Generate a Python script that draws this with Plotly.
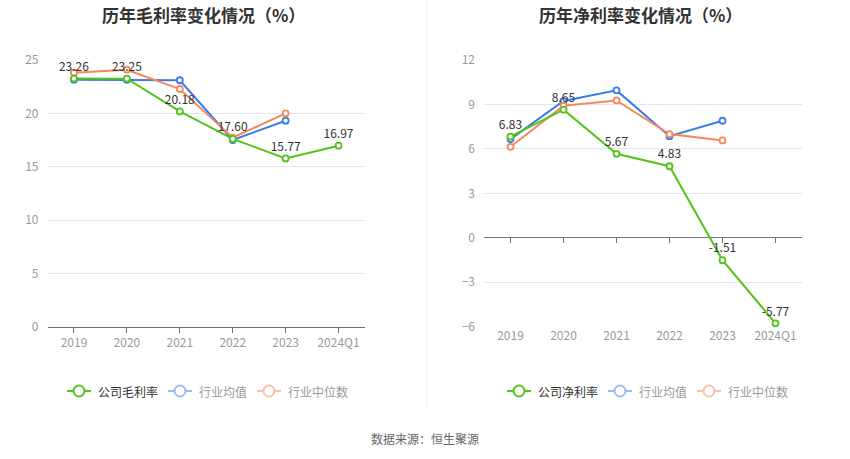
import plotly.graph_objects as go

W, H = 850, 459

years = ["2019", "2020", "2021", "2022", "2023", "2024Q1"]
years_ind = ["2019", "2020", "2021", "2022", "2023"]

# gross margin (%)
gross_company = [23.26, 23.25, 20.18, 17.60, 15.77, 16.97]
gross_ind_mean = [23.16, 23.15, 23.10, 17.50, 19.31]
gross_ind_median = [23.81, 24.09, 22.28, 17.72, 20.00]

# net margin (%)
net_company = [6.83, 8.65, 5.67, 4.83, -1.51, -5.77]
net_ind_mean = [6.66, 9.23, 9.95, 6.86, 7.90]
net_ind_median = [6.14, 8.91, 9.27, 7.00, 6.57]

GREEN = "#52c41a"
BLUE = "#3b7be8"
ORANGE = "#f5875a"
BLUE_FADE = "#9dbdf3"
ORANGE_FADE = "#f9c1a9"
FONT = "Noto Sans CJK SC"


def px_x(v):
    return v / W


def px_y(v):
    return 1 - v / H


def line_trace(x, y, color, xa, ya, labels=False):
    return go.Scatter(
        x=x, y=y, mode="lines+markers+text" if labels else "lines+markers",
        line=dict(color=color, width=2),
        marker=dict(symbol="circle", size=6, color="white",
                    line=dict(color=color, width=1.8)),
        text=[f"{v:.2f}" for v in y] if labels else None,
        textposition="top center",
        textfont=dict(color="#333333", size=12, family=FONT),
        xaxis=xa, yaxis=ya, showlegend=False, hoverinfo="x+y",
        cliponaxis=False,
    )


fig = go.Figure()
# left chart
fig.add_trace(line_trace(years_ind, gross_ind_mean, BLUE, "x", "y"))
fig.add_trace(line_trace(years_ind, gross_ind_median, ORANGE, "x", "y"))
fig.add_trace(line_trace(years, gross_company, GREEN, "x", "y", labels=True))
# right chart
fig.add_trace(line_trace(years_ind, net_ind_mean, BLUE, "x2", "y2"))
fig.add_trace(line_trace(years_ind, net_ind_median, ORANGE, "x2", "y2"))
fig.add_trace(line_trace(years, net_company, GREEN, "x2", "y2", labels=True))

y_dom = [px_y(326.7), px_y(60)]
tickfont = dict(color="#999999", size=12, family=FONT)

fig.update_layout(
    template="none",
    width=W, height=H,
    margin=dict(l=0, r=0, t=0, b=0, pad=0),
    paper_bgcolor="white", plot_bgcolor="white",
    font=dict(family=FONT),
    xaxis=dict(domain=[px_x(47.5), px_x(365)], type="category",
               categoryorder="array", categoryarray=years,
               range=[-0.5, 5.5], anchor="y", automargin=False,
               showline=True, linecolor="#6e7079", linewidth=1,
               ticks="outside", ticklen=5, tickcolor="#6e7079",
               showgrid=False, zeroline=False, tickfont=tickfont),
    yaxis=dict(domain=y_dom, range=[0, 25], dtick=5, anchor="x",
               automargin=False,
               showgrid=True, gridcolor="#e0e6f1", zeroline=False,
               showline=False, tickfont=tickfont, ticks="", ticklabelstandoff=8),
    xaxis2=dict(domain=[px_x(484), px_x(802)], type="category",
                categoryorder="array", categoryarray=years,
                range=[-0.5, 5.5], anchor="y2", automargin=False,
                showline=False, ticks="", showgrid=False, zeroline=False,
                tickfont=tickfont),
    yaxis2=dict(domain=y_dom, range=[-6, 12], dtick=3, anchor="x2",
                automargin=False,
                showgrid=True, gridcolor="#e0e6f1",
                zeroline=True, zerolinecolor="#6e7079", zerolinewidth=1,
                showline=False, tickfont=tickfont, ticks="", ticklabelstandoff=8),
    # tick marks on the zero line of the right chart
    xaxis3=dict(domain=[px_x(484), px_x(802)], range=[-0.5, 5.5],
                anchor="free", position=px_y(237), overlaying="x2",
                automargin=False,
                tickvals=[0, 1, 2, 3, 4, 5], showticklabels=False,
                ticks="outside", ticklen=5, tickcolor="#6e7079",
                showline=False, showgrid=False, zeroline=False),
)
fig.add_trace(go.Scatter(x=[None], y=[None], xaxis="x3", yaxis="y2",
                         showlegend=False, hoverinfo="skip"))

annotations = [
    dict(text="<b>历年毛利率变化情况（%）</b>", x=px_x(203), y=px_y(15)),
    dict(text="<b>历年净利率变化情况（%）</b>", x=px_x(640), y=px_y(15)),
]
for a in annotations:
    a.update(xref="paper", yref="paper", showarrow=False,
             font=dict(size=17, color="#333333", family=FONT),
             xanchor="center", yanchor="middle")
    fig.add_annotation(**a)

fig.add_annotation(text="数据来源：恒生聚源", x=px_x(425), y=px_y(438),
                   xref="paper", yref="paper", showarrow=False,
                   xanchor="center", yanchor="middle",
                   font=dict(size=12, color="#666666", family=FONT))

# separator
fig.add_shape(type="line", xref="paper", yref="paper",
              x0=px_x(427), x1=px_x(427), y0=px_y(0), y1=px_y(408),
              line=dict(color="#eeeeee", width=1))

# hand-drawn legends
legend_items = [
    ("公司毛利率", GREEN, "#333333", 67),
    ("行业均值", BLUE_FADE, "#999999", 168),
    ("行业中位数", ORANGE_FADE, "#999999", 257),
    ("公司净利率", GREEN, "#333333", 507),
    ("行业均值", BLUE_FADE, "#999999", 608),
    ("行业中位数", ORANGE_FADE, "#999999", 697),
]
ly = 391
for label, icolor, tcolor, x0 in legend_items:
    fig.add_shape(type="line", xref="paper", yref="paper",
                  x0=px_x(x0), x1=px_x(x0 + 24), y0=px_y(ly), y1=px_y(ly),
                  line=dict(color=icolor, width=2))
    fig.add_shape(type="circle", xref="paper", yref="paper",
                  x0=px_x(x0 + 6.5), x1=px_x(x0 + 17.5),
                  y0=px_y(ly + 5.5), y1=px_y(ly - 5.5),
                  fillcolor="white", line=dict(color=icolor, width=2))
    fig.add_annotation(text=label, x=px_x(x0 + 29), y=px_y(ly),
                       xref="paper", yref="paper", showarrow=False,
                       xanchor="left", yanchor="middle",
                       font=dict(size=12, color=tcolor, family=FONT))

fig.write_html("out.html", config={"displayModeBar": False},
               post_script="document.body.style.margin='0';document.body.style.overflow='hidden';")
